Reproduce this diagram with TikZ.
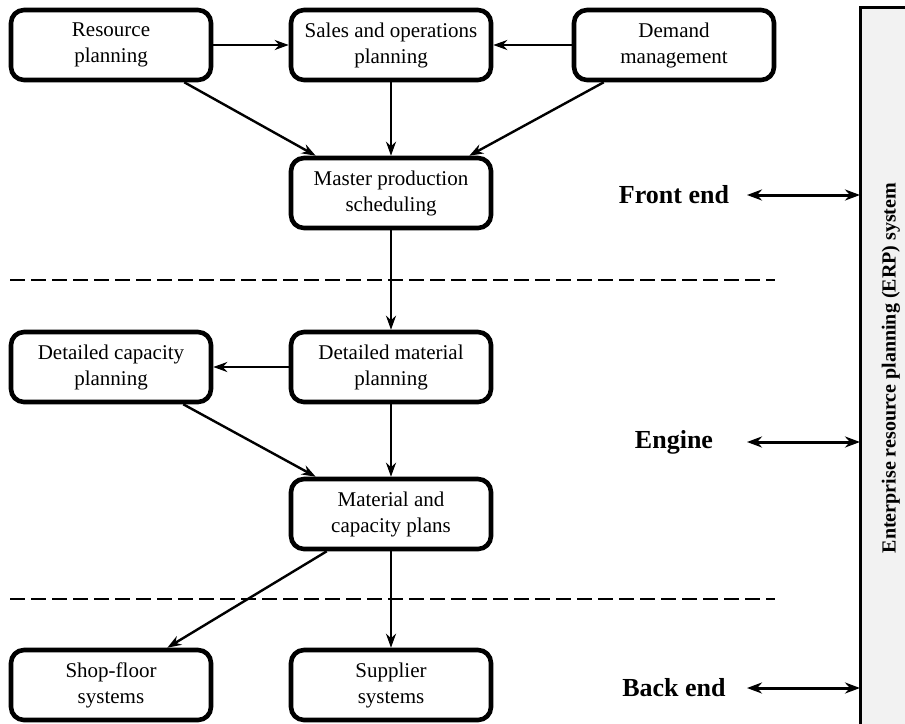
\documentclass[tikz,border=0pt]{standalone}
\usepackage{fontspec}
\setmainfont{Liberation Serif}
\usetikzlibrary{arrows.meta}
\begin{document}
\begin{tikzpicture}[x=1pt,y=-1pt,
  stagebox/.style={draw,line width=4.6pt,rounded corners=13pt,
    minimum width=200pt,minimum height=70pt,inner sep=0pt,align=center,
    font=\fontsize{21}{26}\selectfont},
  flow/.style={line width=2.4pt,-{Stealth[length=14pt,width=10pt]}},
  both/.style={line width=3pt,{Stealth[length=15pt,width=11pt]}-{Stealth[length=15pt,width=11pt]}},
  divider/.style={line width=2.4pt,dash pattern=on 15pt off 6pt},
  layer/.style={font=\fontsize{26}{30}\selectfont\bfseries}]
\useasboundingbox (0,0) rectangle (905,723);

% ERP band on the right
\fill[gray!10] (860,7) rectangle (910,730);
\draw[line width=3pt] (860,730) -- (860,7) -- (910,7);
\node[rotate=90,font=\fontsize{20}{24}\selectfont\bfseries] (erp) at (891,368)
  {Enterprise resource planning (ERP) system};
\coordinate (fe) at (860,195);
\coordinate (en) at (860,442);
\coordinate (be) at (860,688);

% process boxes
\node[stagebox] (rp)  at (111,45)  {Resource\\planning};
\node[stagebox] (sop) at (391,45)  {Sales and operations\\planning};
\node[stagebox] (dm)  at (674,45)  {Demand\\management};
\node[stagebox] (mps) at (391,193) {Master production\\scheduling};
\node[stagebox] (dcp) at (111,367) {Detailed capacity\\planning};
\node[stagebox] (dmp) at (391,367) {Detailed material\\planning};
\node[stagebox] (mcp) at (391,514) {Material and\\capacity plans};
\node[stagebox] (sfs) at (111,685) {Shop-floor\\systems};
\node[stagebox] (sup) at (391,685) {Supplier\\systems};

% stage dividers
\coordinate (d1a) at (10,280);  \coordinate (d1b) at (775,280);
\coordinate (d2a) at (10,599);  \coordinate (d2b) at (775,599);
\draw[divider] (d1a) -- (d1b);
\draw[divider] (d2a) -- (d2b);

% connectors
\draw[flow] (rp.east) -- (sop.west);
\draw[flow] (dm.west) -- (sop.east);
\draw[flow] (sop.south) -- (mps.north);
\draw[flow] ([xshift=-29pt]rp.south east) -- ([xshift=27pt]mps.north west);
\draw[flow] ([xshift=32pt]dm.south west) -- ([xshift=-24pt]mps.north east);
\draw[flow] (mps.south) -- (dmp.north);
\draw[flow] (dmp.west) -- (dcp.east);
\draw[flow] ([xshift=-30pt]dcp.south east) -- ([xshift=27pt]mcp.north west);
\draw[flow] (dmp.south) -- (mcp.north);
\draw[flow] ([xshift=38pt]mcp.south west) -- ([xshift=-46pt]sfs.north east);
\draw[flow] (mcp.south) -- (sup.north);

% layer labels
\node[layer] (lfe) at (674,195) {Front end};
\node[layer] (len) at (674,442) {Engine};
\node[layer] (lbe) at (674,688) {Back end};
\coordinate (afe) at (747,195);
\coordinate (aen) at (747,442);
\coordinate (abe) at (747,688);
\draw[both] (afe) -- (fe);
\draw[both] (aen) -- (en);
\draw[both] (abe) -- (be);
\end{tikzpicture}
\end{document}
